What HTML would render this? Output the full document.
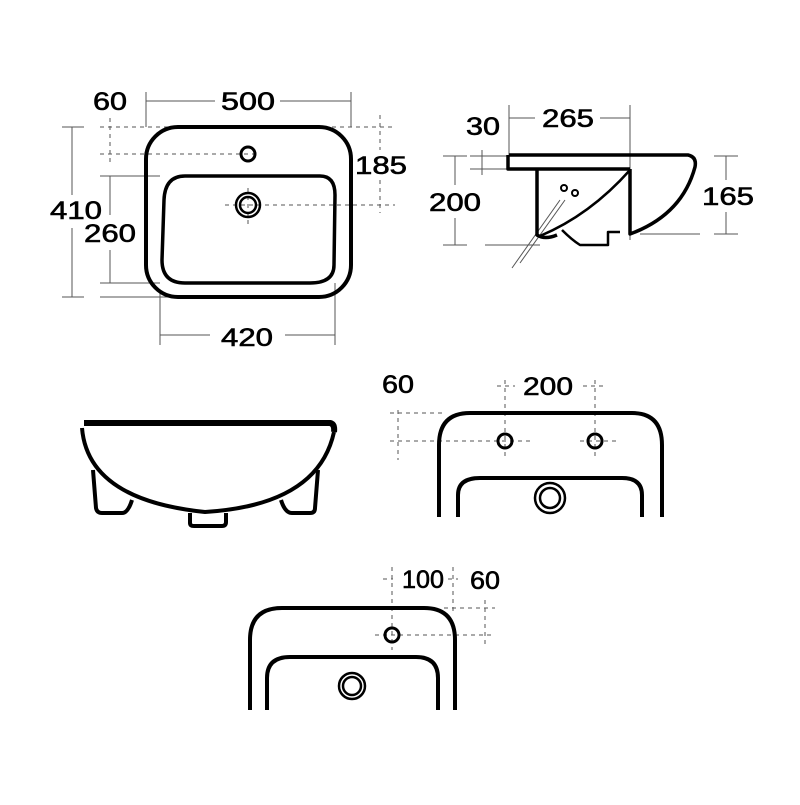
<!DOCTYPE html>
<html><head><style>body{margin:0;background:#fff}text{font-family:"Liberation Sans",sans-serif;font-size:25px;fill:#000;stroke:#000;stroke-width:0.6;text-anchor:middle}</style></head><body>
<svg width="800" height="800" viewBox="0 0 800 800" xmlns="http://www.w3.org/2000/svg">
<g fill="none" stroke="#555" stroke-width="1">
<line x1="146" y1="101" x2="215" y2="101"/><line x1="280" y1="101" x2="351" y2="101"/>
<line x1="146" y1="92" x2="146" y2="127"/><line x1="351" y1="92" x2="351" y2="127"/>
<line x1="72" y1="127" x2="72" y2="195"/><line x1="72" y1="228" x2="72" y2="297"/>
<line x1="62" y1="127" x2="84" y2="127"/><line x1="62" y1="297" x2="84" y2="297"/>
<line x1="110" y1="176" x2="110" y2="215"/><line x1="110" y1="250" x2="110" y2="283"/>
<line x1="100" y1="176" x2="160" y2="176"/><line x1="100" y1="283" x2="160" y2="283"/><line x1="100" y1="297" x2="175" y2="297"/>
<line x1="160" y1="335" x2="210" y2="335"/><line x1="285" y1="335" x2="335" y2="335"/>
<line x1="160" y1="290" x2="160" y2="345"/><line x1="335" y1="283" x2="335" y2="345"/>
<line x1="509" y1="118" x2="535" y2="118"/><line x1="600" y1="118" x2="630" y2="118"/>
<line x1="509" y1="105" x2="509" y2="155"/><line x1="630" y1="105" x2="630" y2="240"/>
<line x1="482" y1="150" x2="482" y2="175"/><line x1="470" y1="156" x2="508" y2="156"/><line x1="470" y1="169" x2="508" y2="169"/>
<line x1="455" y1="156" x2="455" y2="185"/><line x1="455" y1="218" x2="455" y2="245"/>
<line x1="443" y1="156" x2="467" y2="156"/><line x1="443" y1="245" x2="467" y2="245"/><line x1="485" y1="245" x2="540" y2="245"/>
<line x1="726" y1="156" x2="726" y2="180"/><line x1="726" y1="212" x2="726" y2="234"/>
<line x1="714" y1="156" x2="738" y2="156"/><line x1="714" y1="234" x2="738" y2="234"/><line x1="640" y1="234" x2="700" y2="234"/>
<line x1="512" y1="268" x2="560" y2="200"/><line x1="520" y1="263" x2="565" y2="200"/>
</g>
<g fill="none" stroke="#555" stroke-width="1" stroke-dasharray="4,4">
<line x1="100" y1="127" x2="395" y2="127"/><line x1="100" y1="154" x2="255" y2="154"/>
<line x1="225" y1="205" x2="395" y2="205"/><line x1="110" y1="118" x2="110" y2="165"/>
<line x1="380" y1="115" x2="380" y2="150"/><line x1="380" y1="180" x2="380" y2="213"/>
<line x1="248" y1="188" x2="248" y2="225"/>
<line x1="398" y1="410" x2="398" y2="460"/><line x1="390" y1="413" x2="445" y2="413"/>
<line x1="390" y1="441" x2="530" y2="441"/><line x1="580" y1="441" x2="620" y2="441"/>
<line x1="505" y1="380" x2="505" y2="460"/><line x1="595" y1="380" x2="595" y2="460"/>
<line x1="497" y1="386" x2="515" y2="386"/><line x1="583" y1="386" x2="605" y2="386"/>
<line x1="392" y1="567" x2="392" y2="650"/><line x1="453" y1="567" x2="453" y2="615"/>
<line x1="485" y1="600" x2="485" y2="645"/><line x1="444" y1="608" x2="495" y2="608"/>
<line x1="375" y1="635" x2="495" y2="635"/><line x1="383" y1="579" x2="393" y2="579"/><line x1="448" y1="579" x2="458" y2="579"/>
</g>
<g fill="none" stroke="#000" stroke-width="4" stroke-linejoin="round">
<rect x="146" y="127" width="205" height="170" rx="32"/>
<path d="M185 176 H320 Q335 176 335 195 L334 265 Q334 283 310 283 H185 Q162 283 162 260 L164 200 Q165 176 185 176Z" stroke-width="3.5"/>
<circle cx="248" cy="154" r="7" stroke-width="3"/>
<circle cx="248" cy="205" r="12" stroke-width="2.5"/><circle cx="248" cy="205" r="8" stroke-width="2.5"/>
<path d="M509 155 H688 Q697 157 695 167 Q682 215 630 234 L630 169" stroke-width="3.5"/>
<path d="M508 155 V169 H630" stroke-width="3.5"/>
<path d="M537 169 V235 Q545 240 557 235" stroke-width="3.5"/>
<path d="M540 236 Q590 215 630 170" stroke-width="2.5"/>
<path d="M562 230 Q572 240 580 245 H608 V232 H620" stroke-width="2.5"/>
<circle cx="564" cy="188" r="3" stroke-width="2"/><circle cx="575" cy="193" r="3" stroke-width="2"/>
<path d="M84 423 H330 Q335 424 334 432" stroke-width="6"/>
<path d="M82 428 Q88 500 205 512 Q318 505 334 432"/>
<path d="M93 470 L96 508 Q97 513 102 513 H122 Q128 513 132 500"/>
<path d="M281 500 Q285 513 292 513 H310 Q315 513 315 508 L318 470"/>
<path d="M190 513 V523 Q190 526 194 526 H222 Q226 526 226 522 V513"/>
<path d="M439 517 V445 Q439 413 470 413 H632 Q662 413 662 445 V517"/>
<path d="M458 517 V495 Q458 478 480 478 H622 Q642 478 642 495 V517"/>
<circle cx="505" cy="441" r="7" stroke-width="3"/><circle cx="595" cy="441" r="7" stroke-width="3"/>
<circle cx="550" cy="498" r="15" stroke-width="2.5"/><circle cx="550" cy="498" r="10" stroke-width="2.5"/>
<path d="M250 710 V640 Q250 608 282 608 H424 Q455 608 455 640 V710"/>
<path d="M267 710 V678 Q267 657 290 657 H416 Q438 657 438 678 V710"/>
<circle cx="392" cy="635" r="7" stroke-width="3"/>
<circle cx="352" cy="686" r="13" stroke-width="2.5"/><circle cx="352" cy="686" r="9" stroke-width="2.5"/>
</g>
<text x="248" y="110" textLength="54" lengthAdjust="spacingAndGlyphs">500</text>
<text x="110" y="110" textLength="34" lengthAdjust="spacingAndGlyphs">60</text>
<text x="381" y="174" textLength="52" lengthAdjust="spacingAndGlyphs">185</text>
<text x="76" y="219" textLength="52" lengthAdjust="spacingAndGlyphs">410</text>
<text x="110" y="242" textLength="52" lengthAdjust="spacingAndGlyphs">260</text>
<text x="247" y="346" textLength="52" lengthAdjust="spacingAndGlyphs">420</text>
<text x="483" y="135" textLength="34" lengthAdjust="spacingAndGlyphs">30</text>
<text x="568" y="127" textLength="52" lengthAdjust="spacingAndGlyphs">265</text>
<text x="455" y="211" textLength="52" lengthAdjust="spacingAndGlyphs">200</text>
<text x="728" y="205" textLength="52" lengthAdjust="spacingAndGlyphs">165</text>
<text x="398" y="393" textLength="32" lengthAdjust="spacingAndGlyphs">60</text>
<text x="548" y="395" textLength="50" lengthAdjust="spacingAndGlyphs">200</text>
<text x="423" y="588" textLength="42" lengthAdjust="spacingAndGlyphs">100</text>
<text x="485" y="589" textLength="30" lengthAdjust="spacingAndGlyphs">60</text>
</svg>
</body></html>
